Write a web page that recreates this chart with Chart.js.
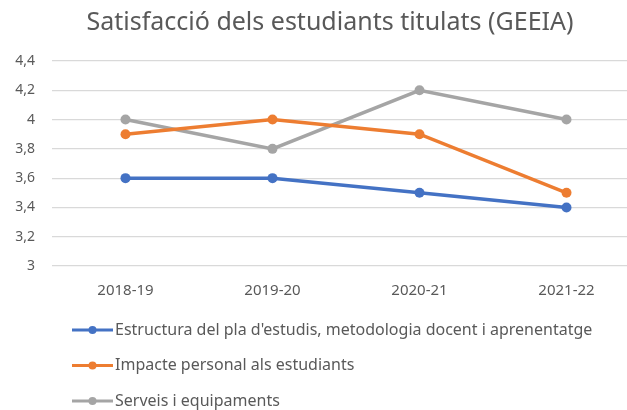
<!DOCTYPE html>
<html>
<head>
<meta charset="utf-8">
<script src="https://cdn.jsdelivr.net/npm/chart.js@4/dist/chart.umd.min.js"></script>
<style>
  html, body { margin: 0; padding: 0; background: #fff; overflow: hidden; }
  #wrap { width: 660px; height: 410px; }
</style>
</head>
<body>
<div id="wrap"><canvas id="myChart" width="660" height="410"></canvas></div>
<script>
// dades
const titol = 'Satisfacció dels estudiants titulats (GEEIA)';
const cursos = ['2018-19', '2019-20', '2020-21', '2021-22'];
const estructura = [3.6, 3.6, 3.5, 3.4];
const impacte = [3.9, 4.0, 3.9, 3.5];
const serveis = [4.0, 3.8, 4.2, 4.0];
const noms = [
    "Estructura del pla d'estudis, metodologia docent i aprenentatge",
    'Impacte personal als estudiants',
    'Serveis i equipaments'
];
const colors = ['#4472C4', '#ED7D31', '#A5A5A5'];
const series = [estructura, impacte, serveis];

const fontFam = "'Noto Sans', 'Open Sans', sans-serif";
const textColor = '#595959';

// titol centrat sobre el grafic original (una mica desplaçat)
const titolPlugin = {
    id: 'titolPlugin',
    afterDraw(chart) {
        const ctx = chart.ctx;
        ctx.save();
        ctx.fillStyle = textColor;
        ctx.font = '25px ' + fontFam;
        ctx.textAlign = 'center';
        ctx.textBaseline = 'middle';
        ctx.fillText(titol, 330, 23);
        ctx.restore();
    }
};

// llegenda apilada (una fila per serie)
const llegenda = {
    id: 'llegenda',
    afterDraw(chart) {
        const ctx = chart.ctx;
        ctx.save();
        chart.data.datasets.forEach(function (ds, i) {
            const y = 330 + i * 35.5;
            ctx.strokeStyle = ds.borderColor;
            ctx.lineWidth = 3;
            ctx.beginPath();
            ctx.moveTo(72, y);
            ctx.lineTo(113, y);
            ctx.stroke();
            ctx.fillStyle = ds.borderColor;
            ctx.beginPath();
            ctx.arc(92.5, y, 4, 0, Math.PI * 2);
            ctx.fill();
            ctx.fillStyle = textColor;
            ctx.font = '16px ' + fontFam;
            ctx.textBaseline = 'middle';
            ctx.fillText(ds.label, 115, y);
        });
        ctx.restore();
    }
};

new Chart(document.getElementById('myChart').getContext('2d'), {
    type: 'line',
    data: {
        labels: cursos,
        datasets: series.map(function (vals, i) {
            return {
                label: noms[i],
                data: vals,
                borderColor: colors[i],
                backgroundColor: colors[i],
                borderWidth: 3.5,
                pointRadius: 5,
                pointBorderWidth: 0,
                tension: 0
            };
        })
    },
    options: {
        responsive: false,
        animation: false,
        layout: { padding: { top: 61, right: 20, bottom: 110, left: 0 } },
        plugins: {
            legend: { display: false },
            tooltip: { enabled: false },
            title: { display: false }
        },
        scales: {
            x: {
                offset: true,
                grid: { display: false, drawTicks: false },
                border: { display: false },
                ticks: {
                    color: textColor,
                    padding: 16,
                    font: { family: fontFam, size: 15 }
                },
                afterFit: function (scale) { scale.height = 34; }
            },
            y: {
                min: 3,
                max: 4.4,
                grid: { color: '#D9D9D9', lineWidth: 1.2, drawTicks: false },
                border: { display: false },
                ticks: {
                    stepSize: 0.2,
                    color: textColor,
                    padding: 17,
                    font: { family: fontFam, size: 14 },
                    callback: function (v) {
                        return String(Number(v.toFixed(1))).replace('.', ',');
                    }
                },
                afterFit: function (scale) { scale.width = 52; }
            }
        }
    },
    plugins: [titolPlugin, llegenda]
});
</script>
</body>
</html>
